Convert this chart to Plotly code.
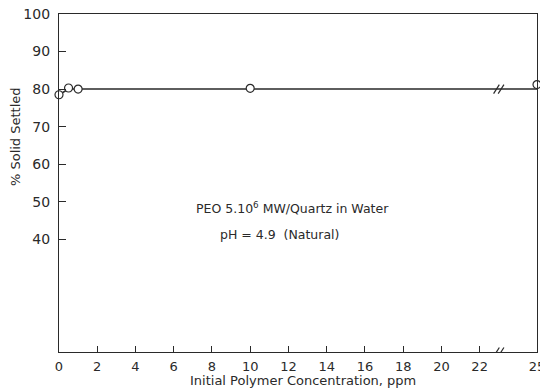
import plotly.graph_objects as go

# data
conc = [0, 0.5, 1.0, 10, 25]
settled = [78.5, 80.3, 80.0, 80.2, 81.2]
line_x = [0, 0.5, 1.0, 10, 25]
line_y = [78.5, 80.0, 80.0, 80.0, 80.0]
x_ticks = [0, 2, 4, 6, 8, 10, 12, 14, 16, 18, 20, 22, 25]
y_ticks = [40, 50, 60, 70, 80, 90, 100]

ink = "#2a2a2a"
fam = "DejaVu Sans, sans-serif"
font = dict(family=fam, size=12.5, color=ink)

fig = go.Figure()
fig.add_trace(go.Scatter(x=line_x, y=line_y, mode="lines",
                         line=dict(color=ink, width=1.5), hoverinfo="skip"))
fig.add_trace(go.Scatter(x=conc, y=settled, mode="markers",
                         marker=dict(symbol="circle", size=8, color="white",
                                     line=dict(color=ink, width=1.2)),
                         cliponaxis=False))

# axis break marks "//"
for yb in [80, 10]:
    for dx in [-0.12, 0.12]:
        fig.add_shape(type="line", xref="x", yref="y",
                      x0=23 + dx - 0.15, y0=yb - 1.2, x1=23 + dx + 0.15, y1=yb + 1.2,
                      line=dict(color=ink, width=1.2))

fig.add_annotation(x=12.2, y=48.4, xref="x", yref="y", showarrow=False,
                   text="PEO 5.10<sup>6</sup> MW/Quartz in Water",
                   font=dict(family=fam, size=12.5, color=ink),
                   xanchor="center", yanchor="middle")
fig.add_annotation(x=8.3, y=41.4, xref="x", yref="y", showarrow=False,
                   text="pH = 4.9  (Natural)",
                   font=dict(family=fam, size=12.5, color=ink),
                   xanchor="left", yanchor="middle")
fig.add_annotation(x=-0.092, y=0.636, xref="paper", yref="paper", showarrow=False,
                   text="% Solid Settled", textangle=-90,
                   xanchor="center", yanchor="middle",
                   font=dict(family=fam, size=13, color=ink))
fig.add_annotation(x=0.510, y=-0.085, xref="paper", yref="paper", showarrow=False,
                   text="Initial Polymer Concentration, ppm",
                   xanchor="center", yanchor="middle",
                   font=dict(family=fam, size=13, color=ink))

fig.update_layout(
    width=540, height=388,
    margin=dict(l=59, r=3, t=14, b=36, autoexpand=False),
    paper_bgcolor="white", plot_bgcolor="white",
    showlegend=False, font=font,
    xaxis=dict(range=[0, 25], tickvals=x_ticks, ticks="inside", ticklen=6,
               tickcolor=ink, showgrid=False, zeroline=False, automargin=False,
               ticklabeloverflow="allow", tickfont=dict(size=13), ticklabelstandoff=2,
               showline=True, linecolor=ink, linewidth=1.2, mirror=True),
    yaxis=dict(range=[10, 100], tickvals=y_ticks, ticks="inside", ticklen=7,
               tickcolor=ink, showgrid=False, zeroline=False, automargin=False,
               ticklabeloverflow="allow", ticklabelstandoff=5, tickfont=dict(size=14),
               showline=True, linecolor=ink, linewidth=1.2, mirror=True),
)
fig.write_html("out.html", config={"displayModeBar": False},
               post_script="document.body.style.margin='0';document.body.style.overflow='hidden';")
